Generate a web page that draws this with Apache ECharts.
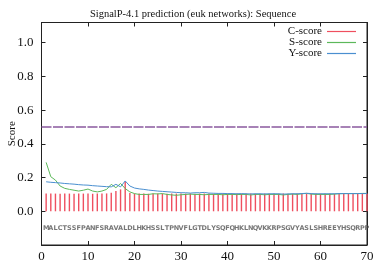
<!DOCTYPE html>
<html><head><meta charset="utf-8">
<script src="https://cdn.jsdelivr.net/npm/echarts@6/dist/echarts.min.js"></script>
<style>html,body{margin:0;padding:0;background:#fff}#c{width:386px;height:266px}</style>
</head><body><div id="c"></div>
<script>
const title = 'SignalP-4.1 prediction (euk networks): Sequence';
const sequence = 'MALCTSSFPANFSRAVALDLHKHSSLTPNVFLGTDLYSQFQHKLNQVKKRPSGVYASLSHREEYHSQRPP'.split('');
const positions = sequence.map((_, i) => i + 1);
const cScore = [0.105,0.105,0.105,0.104,0.105,0.105,0.104,0.106,0.105,0.105,0.104,0.105,0.105,0.106,0.11,0.12,0.13,0.178,0.108,0.105,
  0.105,0.105,0.104,0.105,0.105,0.105,0.104,0.105,0.105,0.105,0.105,0.105,0.104,0.105,0.105,0.105,0.104,0.105,0.105,0.105,
  0.105,0.105,0.104,0.105,0.105,0.105,0.104,0.105,0.105,0.105,0.105,0.105,0.104,0.105,0.105,0.105,0.104,0.105,0.105,0.105,
  0.105,0.105,0.104,0.105,0.105,0.105,0.104,0.105,0.105,0.105];
const sScore = [0.29,0.205,0.185,0.15,0.136,0.13,0.125,0.12,0.125,0.132,0.12,0.115,0.12,0.13,0.16,0.14,0.165,0.135,0.115,0.105,
  0.1,0.1,0.1,0.104,0.103,0.105,0.1,0.097,0.095,0.098,0.1,0.102,0.1,0.1,0.098,0.1,0.1,0.1,0.098,0.1,
  0.1,0.099,0.1,0.1,0.097,0.1,0.1,0.098,0.1,0.1,0.1,0.097,0.1,0.102,0.1,0.104,0.106,0.102,0.1,0.1,
  0.1,0.1,0.102,0.104,0.105,0.105,0.105,0.105,0.106,0.106];
const yScore = [0.175,0.172,0.170,0.168,0.165,0.163,0.161,0.158,0.156,0.155,0.152,0.150,0.148,0.146,0.145,0.16,0.145,0.18,0.15,0.138,
  0.133,0.13,0.126,0.123,0.12,0.118,0.116,0.114,0.112,0.11,0.11,0.108,0.11,0.11,0.112,0.108,0.107,0.106,0.106,0.105,
  0.105,0.104,0.105,0.104,0.103,0.104,0.104,0.103,0.104,0.104,0.104,0.102,0.103,0.104,0.104,0.105,0.107,0.105,0.104,0.104,
  0.104,0.104,0.104,0.105,0.105,0.105,0.105,0.105,0.105,0.105];
const cutoff = 0.5;
const xTicks = [0,10,20,30,40,50,60,70];
const yTicks = [0.0,0.2,0.4,0.6,0.8,1.0];

const serif = '"Liberation Serif","Times New Roman",serif';
const axisCol = '#222';
const chart = echarts.init(document.getElementById('c'), null, {renderer:'canvas'});
const pair = a => a.map((v,i)=>[positions[i], v]);
const line = {show:true,onZero:false,lineStyle:{color:axisCol}};
const tick = {inside:true,length:4,lineStyle:{color:axisCol}};
chart.setOption({
  animation:false,
  title:{text:title,left:'center',top:4,textStyle:{fontFamily:serif,fontSize:10.5,fontWeight:'normal',color:'#111'}},
  grid:{left:41.5,right:19,top:22.5,bottom:21,containLabel:false,outerBoundsMode:'none',show:true,borderColor:axisCol,borderWidth:1,backgroundColor:'transparent'},
  legend:{data:['C-score','S-score','Y-score'],orient:'vertical',right:30,top:26,align:'right',icon:'rect',
    itemWidth:29,itemHeight:1.2,itemGap:0,textStyle:{fontFamily:serif,fontSize:11,color:'#111',lineHeight:11,padding:[0,0,0,0]},
    padding:0},
  xAxis:[{type:'value',min:0,max:70,interval:10,position:'bottom',axisLine:line,axisTick:tick,
    axisLabel:{fontFamily:serif,fontSize:13,color:'#111',margin:5,formatter:v=>xTicks.includes(v)?String(v):''},splitLine:{show:false}},
    {type:'value',min:0,max:70,interval:10,position:'top',axisLine:line,axisTick:tick,
    axisLabel:{show:false},splitLine:{show:false}}],
  yAxis:[{type:'value',min:-0.2,max:1.12,interval:0.2,name:'Score',nameLocation:'middle',nameGap:24,nameMoveOverlap:false,
    nameTextStyle:{fontFamily:serif,fontSize:11,color:'#111'},axisLine:line,axisTick:tick,
    axisLabel:{fontFamily:serif,fontSize:13,color:'#111',margin:8,showMaxLabel:false,showMinLabel:false,
      formatter:v=>{const r=Math.round(v*10)/10;return yTicks.some(t=>Math.abs(t-r)<1e-6)?r.toFixed(1):'';}},splitLine:{show:false}},
    {type:'value',min:-0.2,max:1.12,interval:0.2,position:'right',axisLine:line,axisTick:tick,
    axisLabel:{show:false},splitLine:{show:false}}],
  series:[
    {name:'C-score',type:'bar',data:pair(cScore),barWidth:1.4,itemStyle:{color:'#ef4f5f'},z:2},
    {name:'S-score',type:'line',data:pair(sScore),symbol:'none',lineStyle:{width:1,color:'#5cb85a'},itemStyle:{color:'#5cb85a'},z:3},
    {name:'Y-score',type:'line',data:pair(yScore),symbol:'none',lineStyle:{width:1,color:'#4a8fd0'},itemStyle:{color:'#4a8fd0'},z:4},
    {name:'cutoff',type:'line',data:[[0,cutoff],[70,cutoff]],symbol:'none',
      lineStyle:{width:1.3,color:'#8a5a9e',type:[10,1.5]},z:3},
    {name:'seq',type:'scatter',data:positions.map(p=>[p,-0.1]),symbolSize:0,z:5,
      label:{show:true,position:'inside',formatter:p=>sequence[p.dataIndex],fontFamily:'"DejaVu Sans",sans-serif',
        fontSize:6.5,fontWeight:'bold',color:'#555'}}
  ]
});
</script></body></html>
